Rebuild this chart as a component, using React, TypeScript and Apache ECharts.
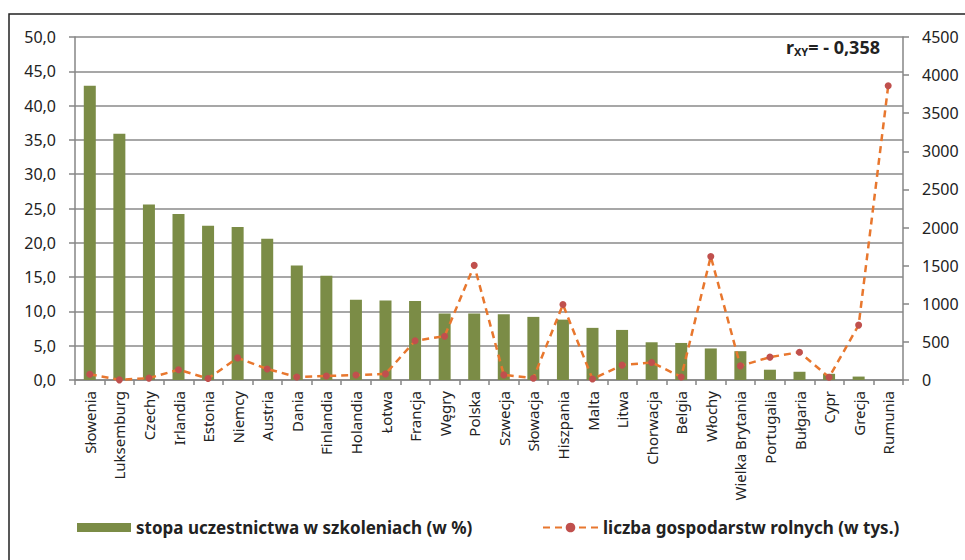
import React, { useEffect, useRef } from "react";
import * as echarts from "echarts";

const categories = [
  "Słowenia", "Luksemburg", "Czechy", "Irlandia", "Estonia", "Niemcy", "Austria",
  "Dania", "Finlandia", "Holandia", "Łotwa", "Francja", "Węgry", "Polska",
  "Szwecja", "Słowacja", "Hiszpania", "Malta", "Litwa", "Chorwacja", "Belgia",
  "Włochy", "Wielka Brytania", "Portugalia", "Bułgaria", "Cypr", "Grecja", "Rumunia",
];

const trainingRate = [
  42.9, 35.9, 25.6, 24.2, 22.5, 22.3, 20.6, 16.7, 15.2, 11.7, 11.6, 11.5, 9.7, 9.7,
  9.6, 9.2, 8.8, 7.6, 7.3, 5.5, 5.4, 4.6, 4.2, 1.5, 1.2, 0.9, 0.5, 0,
];

const farms = [
  75, 2, 25, 135, 19, 290, 145, 40, 53, 65, 80, 515, 575, 1505,
  67, 24, 990, 12, 195, 230, 40, 1620, 185, 300, 365, 35, 720, 3860,
];

const leftTicks = { min: 0, max: 50, interval: 5 };
const rightTicks = { min: 0, max: 4500, interval: 500 };

const barName = "stopa uczestnictwa w szkoleniach (w %)";
const lineName = "liczba gospodarstw rolnych (w tys.)";
const correlation = "= - 0,358";

const FONT = "'Noto Sans', 'Open Sans', sans-serif";

export default function App() {
  const ref = useRef<HTMLDivElement>(null);
  useEffect(() => {
    document.body.style.margin = "0";
    if (!ref.current) return;
    const chart = echarts.init(ref.current, null, { renderer: "svg" });
    const axisLabel = { color: "#222", fontSize: 16, fontFamily: FONT };
    chart.setOption({
      animation: false,
      backgroundColor: "#fff",
      textStyle: { fontFamily: FONT },
      grid: { left: 75, right: 62, top: 37, bottom: 180, containLabel: false },
      xAxis: {
        type: "category",
        data: categories,
        axisLine: { lineStyle: { color: "#868686", width: 1.5 } },
        axisTick: { show: true, length: 5, lineStyle: { color: "#868686", width: 1.5 } },
        axisLabel: { rotate: 90, interval: 0, color: "#222", fontSize: 15, fontFamily: FONT, margin: 11 },
      },
      yAxis: [
        {
          type: "value",
          ...leftTicks,
          axisLine: { show: true, lineStyle: { color: "#868686", width: 1.5 } },
          axisTick: { show: true, length: 6, lineStyle: { color: "#868686", width: 1.5 } },
          splitLine: { lineStyle: { color: "#8a8a8a", width: 1.5 } },
          axisLabel: { ...axisLabel, margin: 19, formatter: (v: number) => v.toFixed(1).replace(".", ",") },
        },
        {
          type: "value",
          ...rightTicks,
          position: "right",
          axisLine: { show: true, lineStyle: { color: "#868686", width: 1.5 } },
          axisTick: { show: true, length: 6, lineStyle: { color: "#868686", width: 1.5 } },
          splitLine: { show: false },
          axisLabel: { ...axisLabel, margin: 19, formatter: (v: number) => String(v) },
        },
      ],
      legend: [
        {
          data: [{ name: barName, icon: "rect" }],
          left: 72,
          top: 514,
          itemWidth: 54,
          itemHeight: 9,
          itemGap: 6,
          textStyle: { fontSize: 17, fontWeight: "bold", color: "#222", fontFamily: FONT },
          selectedMode: false,
        },
        {
          data: [{ name: lineName }],
          left: 537,
          top: 514,
          itemWidth: 55,
          itemHeight: 12,
          textStyle: { fontSize: 17, fontWeight: "bold", color: "#222", fontFamily: FONT },
          selectedMode: false,
        },
      ],
      series: [
        {
          name: barName,
          type: "bar",
          data: trainingRate,
          barWidth: 12,
          itemStyle: { color: "#7b8c46" },
          yAxisIndex: 0,
        },
        {
          name: lineName,
          type: "line",
          data: farms,
          yAxisIndex: 1,
          symbol: "circle",
          symbolSize: 7,
          itemStyle: { color: "#c0504d" },
          lineStyle: { color: "#e8772e", width: 2.5, type: [7, 5] },
        },
      ],
      graphic: [
        {
          type: "rect",
          shape: { x: 9, y: 14, width: 1000, height: 600 },
          style: { fill: "none", stroke: "#222", lineWidth: 1.5 },
          silent: true,
        },
        {
          type: "text",
          right: 85,
          top: 38,
          style: {
            text: "{r|r}{sub|XY}{b|" + correlation + "}",
            rich: {
              r: { fontSize: 18, fontWeight: "bold", fill: "#222", fontFamily: FONT },
              sub: { fontSize: 11, fontWeight: "bold", fill: "#222", fontFamily: FONT, padding: [9, 0, 0, 0] },
              b: { fontSize: 18, fontWeight: "bold", fill: "#222", fontFamily: FONT },
            },
          },
        },
      ],
    });
    return () => chart.dispose();
  }, []);
  return <div ref={ref} style={{ width: 965, height: 560 }} />;
}
